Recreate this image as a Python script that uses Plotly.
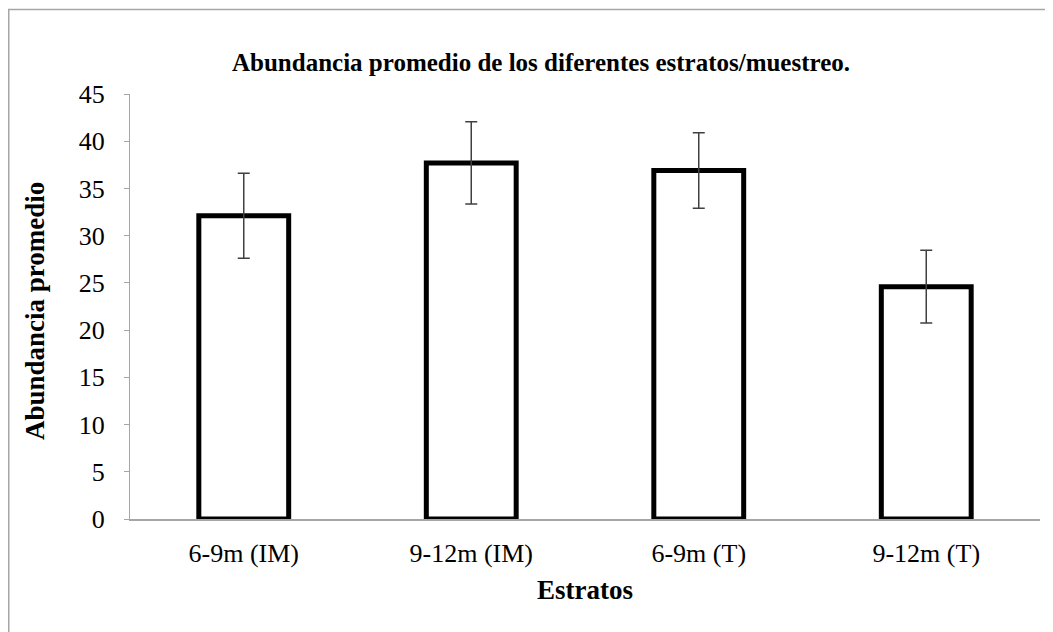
import plotly.graph_objects as go

# Data
estratos = ['6-9m (IM)', '9-12m (IM)', '6-9m (T)', '9-12m (T)']
abundancia = [32.1, 37.7, 36.9, 24.6]
error = [4.5, 4.35, 4.0, 3.85]

serif = 'Liberation Serif, Times New Roman, serif'

# page body has an 8px margin, so the figure is drawn 8px smaller
W, H = 1045, 624
L, R, T, B = 122, 13, 86, 113
PW, PH = W - L - R, H - T - B


def px_x(x):
    return (x - L) / PW


def px_y(y):
    return 1 - (y - T) / PH


fig = go.Figure()
fig.add_trace(go.Bar(
    x=estratos,
    y=abundancia,
    width=0.395,
    marker=dict(color='white', line=dict(color='black', width=5)),
    error_y=dict(type='data', array=error, visible=True,
                 color='#404040', thickness=1.5, width=6),
    showlegend=False,
))

fig.update_layout(
    width=W, height=H,
    paper_bgcolor='white', plot_bgcolor='white',
    margin=dict(l=L, r=R, t=T, b=B),
    font=dict(family=serif, size=26, color='black'),
    title=dict(text='<b>Abundancia promedio de los diferentes estratos/muestreo.</b>',
               x=533 / W, xanchor='center', y=1 - 54 / H, yanchor='middle',
               font=dict(family=serif, size=25, color='black')),
)

fig.update_yaxes(
    range=[0, 45], dtick=5, showgrid=False, zeroline=False,
    showline=True, linecolor='#a6a6a6', linewidth=1,
    ticks='outside', ticklen=5, tickcolor='#a6a6a6',
    ticklabelstandoff=14,
    tickfont=dict(family=serif, size=26, color='black'),
)
fig.update_xaxes(
    showgrid=False, zeroline=False,
    showline=True, linecolor='#a6a6a6', linewidth=1.5,
    ticks='', ticklabelstandoff=10,
    tickfont=dict(family=serif, size=26, color='black'),
)

# axis titles
fig.add_annotation(text='<b>Abundancia promedio</b>', xref='paper', yref='paper',
                   x=px_x(27), y=px_y(303), textangle=-90, showarrow=False,
                   xanchor='center', yanchor='middle',
                   font=dict(family=serif, size=27, color='black'))
fig.add_annotation(text='<b>Estratos</b>', xref='paper', yref='paper',
                   x=px_x(577), y=px_y(582), showarrow=False,
                   xanchor='center', yanchor='middle',
                   font=dict(family=serif, size=27, color='black'))

# outer chart border (only top and left visible in the reference)
fig.add_shape(type='rect', xref='paper', yref='paper',
              x0=px_x(0.75), x1=px_x(W + 20), y0=px_y(H + 20), y1=px_y(1.5),
              line=dict(color='#a6a6a6', width=1.5), fillcolor='rgba(0,0,0,0)',
              layer='below')

fig.write_html('out.html')
